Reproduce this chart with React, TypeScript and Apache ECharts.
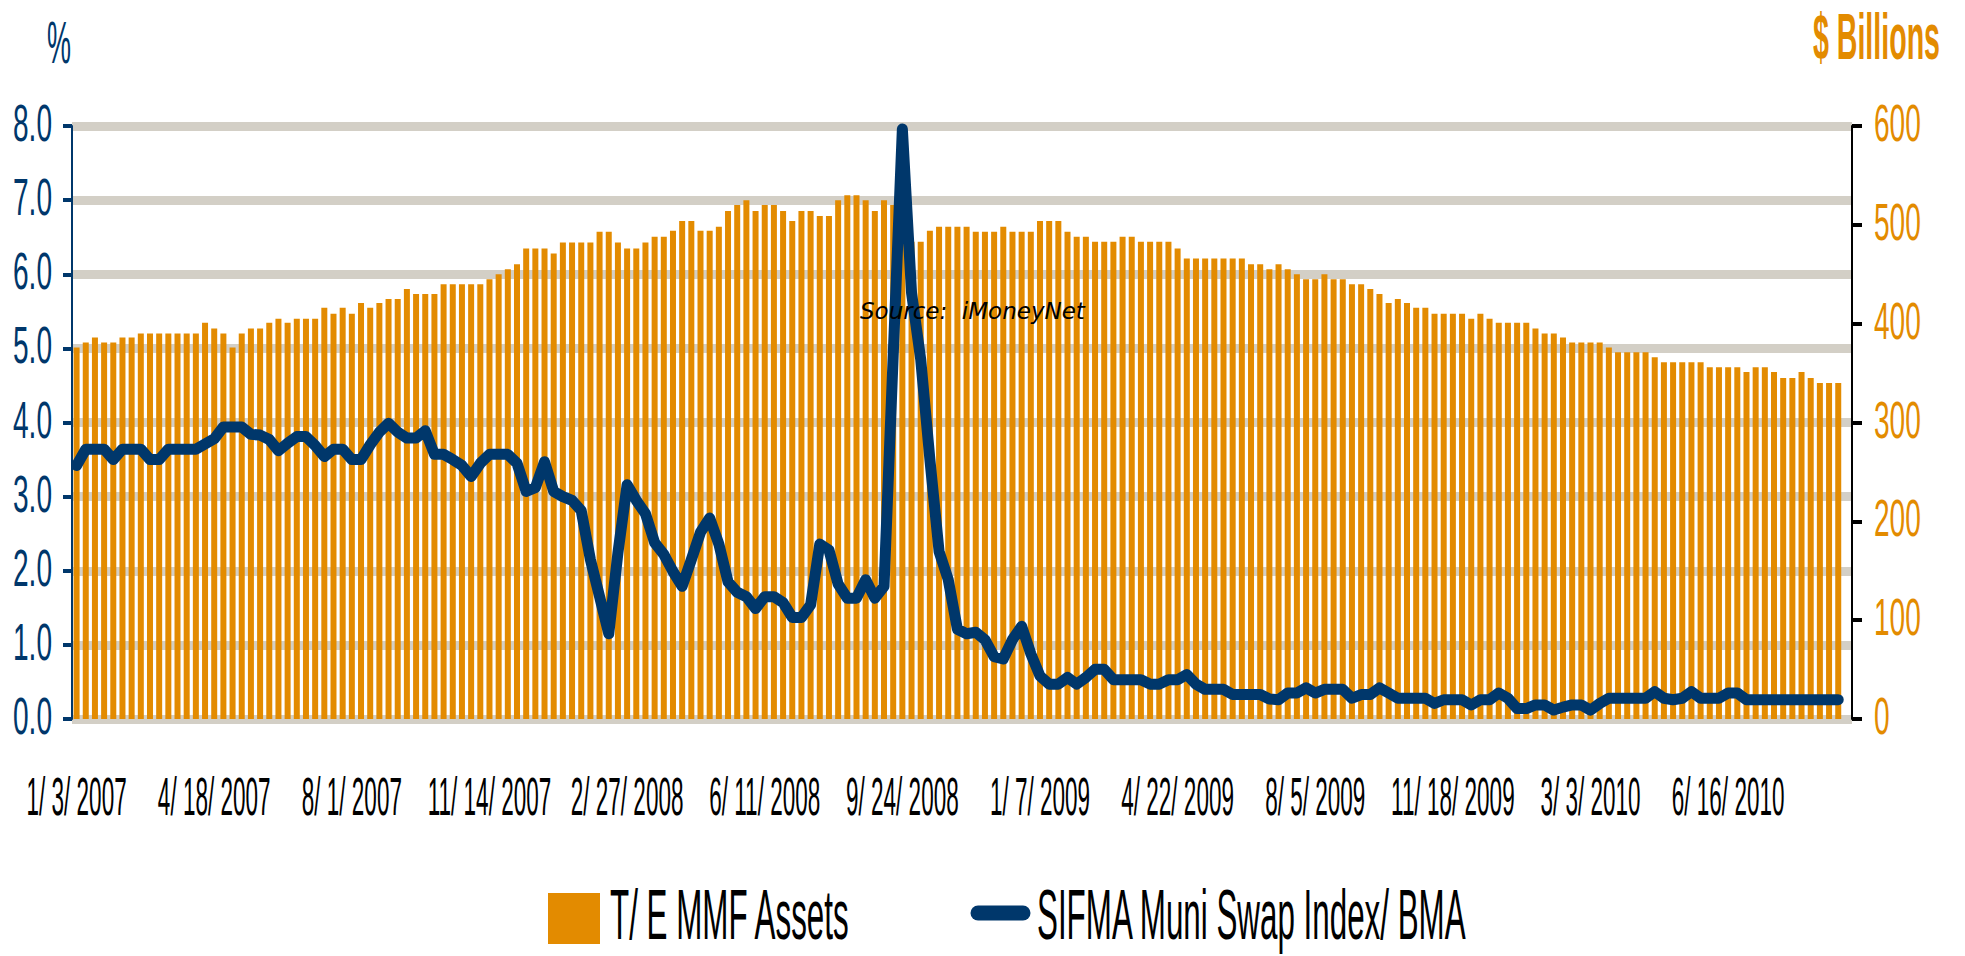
import React, { useEffect, useRef } from "react";
import * as echarts from "echarts";

// ---- data (weekly, starting 1/3/2007) ----
const START_UTC = Date.UTC(2007, 0, 3);
const WEEK_MS = 7 * 86400000;
const CATEGORY_COUNT = 194;
const LABEL_EVERY = 15;

// T/E money-market fund assets, $ billions
const mmfAssets = [
  376, 381, 386, 381, 381, 386, 386, 390, 390, 390, 390, 390, 390, 390, 401, 395, 390, 376, 390, 395, 395, 401, 405, 401, 405, 405, 405, 416, 410, 416, 410, 421,
  416, 421, 425, 425, 435, 430, 430, 430, 440, 440, 440, 440, 440, 445, 450, 455, 460, 476, 476, 476, 471, 482, 482, 482, 482, 493, 493, 482, 476, 476, 482, 488, 488,
  494, 504, 504, 494, 494, 498, 514, 520, 525, 514, 520, 520, 514, 504, 514, 514, 509, 509, 525, 530, 530, 525, 514, 525, 520, 490, 483, 483, 494, 498, 498, 498,
  498,
  493, 493, 493, 498, 493, 493, 493, 504, 504, 504, 493, 488, 488, 483, 483, 483, 488, 488, 483, 483, 483, 483, 476, 466, 466, 466, 466, 466, 466, 466, 460, 460,
  455, 460, 455, 450, 445, 445, 450, 445, 445, 440, 440, 435, 430, 421, 425, 421, 416, 416, 410, 410, 410, 410, 405, 410, 405, 401, 401, 401, 401, 395, 390, 390, 386,
  381, 381, 381, 381, 376, 371, 371, 371, 371, 366, 361, 361, 361, 361, 361, 356, 356, 356, 356, 351, 356, 356, 351, 345, 345, 351, 345, 340, 340, 340,
];

// SIFMA Muni Swap Index / BMA, %
const sifmaRate = [
  3.42, 3.64, 3.64, 3.64, 3.5, 3.64, 3.64, 3.64, 3.5, 3.5, 3.64, 3.64, 3.64, 3.64, 3.71, 3.78, 3.94, 3.94, 3.94, 3.84, 3.83, 3.77, 3.62, 3.72, 3.81, 3.81, 3.69, 3.54, 3.64, 3.64, 3.5, 3.5,
  3.7, 3.87, 3.99, 3.87, 3.79, 3.79, 3.89, 3.57, 3.57, 3.5, 3.42, 3.27, 3.45, 3.57, 3.57, 3.57, 3.45, 3.07, 3.12, 3.47, 3.07, 3.0, 2.95, 2.81, 2.15, 1.65, 1.15, 2.24, 3.16, 2.95, 2.77, 2.38, 2.22,
  1.99, 1.79, 2.15, 2.52, 2.71, 2.36, 1.85, 1.71, 1.65, 1.49, 1.65, 1.65, 1.57, 1.37, 1.37, 1.54, 2.36, 2.28, 1.82, 1.63, 1.63, 1.88, 1.63, 1.79, 4.9, 7.96, 5.75, 4.85, 3.5, 2.26, 1.88, 1.21,
  1.15,
  1.17, 1.07, 0.84, 0.81, 1.07, 1.25, 0.88, 0.58, 0.47, 0.47, 0.56, 0.47, 0.56, 0.67, 0.67, 0.53, 0.53, 0.53, 0.53, 0.47, 0.47, 0.53, 0.53, 0.6, 0.47, 0.4, 0.4, 0.4, 0.33, 0.33, 0.33, 0.33,
  0.27, 0.26, 0.35, 0.35, 0.42, 0.35, 0.4, 0.4, 0.4, 0.28, 0.33, 0.33, 0.42, 0.35, 0.28, 0.28, 0.28, 0.28, 0.21, 0.26, 0.26, 0.26, 0.19, 0.26, 0.26, 0.35, 0.28, 0.14, 0.14, 0.19, 0.19, 0.12, 0.16,
  0.19, 0.19, 0.12, 0.21, 0.28, 0.28, 0.28, 0.28, 0.28, 0.37, 0.28, 0.26, 0.28, 0.37, 0.28, 0.28, 0.28, 0.35, 0.35, 0.26, 0.26, 0.26, 0.26, 0.26, 0.26, 0.26, 0.26, 0.26, 0.26, 0.26,
];

const leftTickValues = [0, 1, 2, 3, 4, 5, 6, 7, 8];
const leftTickLabels = ["0.0", "1.0", "2.0", "3.0", "4.0", "5.0", "6.0", "7.0", "8.0"];
const rightTickValues = [0, 100, 200, 300, 400, 500, 600];
const rightTickLabels = ["0", "100", "200", "300", "400", "500", "600"];

const weeks = Array.from({ length: CATEGORY_COUNT }, (_, i) => {
  const d = new Date(START_UTC + i * WEEK_MS);
  return `${d.getUTCMonth() + 1}/ ${d.getUTCDate()}/ ${d.getUTCFullYear()}`;
});

const NAVY = "#00376B";
const ORANGE = "#E38B00";
const GRID = "#D3CFC6";
const FONT = "'Liberation Sans', Arial, sans-serif";

function txt(
  text: string,
  x: number,
  y: number,
  size: number,
  sx: number,
  color: string,
  align: string,
  extra: any = {}
) {
  return {
    type: "text",
    x,
    y,
    scaleX: sx,
    scaleY: 1,
    z: 50,
    silent: true,
    style: {
      text,
      fill: color,
      fontSize: size,
      fontFamily: FONT,
      fontWeight: extra.fontWeight || "normal",
      fontStyle: extra.fontStyle || "normal",
      align,
      textAlign: align,
      verticalAlign: "middle",
      textVerticalAlign: "middle",
      ...(extra.style || {}),
    },
  };
}

export default function App() {
  const ref = useRef<HTMLDivElement>(null);

  useEffect(() => {
    const chart = echarts.init(ref.current!, null, { renderer: "svg" });
    chart.setOption({
      animation: false,
      backgroundColor: "#ffffff",
      grid: { left: 72, right: 113, top: 126, bottom: 237 },
      xAxis: {
        type: "category",
        data: weeks,
        axisLine: { show: false },
        axisTick: { show: false },
        axisLabel: { show: false },
        splitLine: { show: false },
      },
      yAxis: [
        {
          type: "value",
          min: 0,
          max: 8,
          interval: 1,
          position: "left",
          axisLine: { show: true, lineStyle: { color: NAVY, width: 2 } },
          axisTick: { show: true, length: 9, lineStyle: { color: NAVY, width: 4 } },
          axisLabel: { show: false },
          splitLine: { show: true, lineStyle: { color: GRID, width: 9 } },
        },
        {
          type: "value",
          min: 0,
          max: 600,
          interval: 100,
          position: "right",
          axisLine: { show: true, lineStyle: { color: "#000000", width: 2 } },
          axisTick: { show: true, length: 10, lineStyle: { color: "#000000", width: 4 } },
          axisLabel: { show: false },
          splitLine: { show: false },
        },
      ],
      series: [
        {
          type: "bar",
          name: "T/ E MMF Assets",
          yAxisIndex: 1,
          data: mmfAssets,
          barWidth: 6,
          itemStyle: { color: ORANGE },
        },
        {
          type: "line",
          name: "SIFMA Muni Swap Index/ BMA",
          yAxisIndex: 0,
          data: sifmaRate,
          symbol: "none",
          z: 3,
          lineStyle: { color: NAVY, width: 11, cap: "round", join: "round" },
        },
      ],
    });

    const g: any[] = [];
    // x labels
    for (let i = 0; i < mmfAssets.length; i += LABEL_EVERY) {
      const x = chart.convertToPixel({ xAxisIndex: 0 }, i) as number;
      g.push(txt(weeks[i], x, 797, 53, 0.425, "#000000", "center"));
    }
    // left tick labels
    leftTickValues.forEach((v, k) => {
      const y = chart.convertToPixel({ yAxisIndex: 0 }, v) as number;
      g.push(txt(leftTickLabels[k], 52, y - 3, 52, 0.54, NAVY, "right"));
    });
    // right tick labels
    rightTickValues.forEach((v, k) => {
      const y = chart.convertToPixel({ yAxisIndex: 1 }, v) as number;
      g.push(txt(rightTickLabels[k], 1874, y - 3, 52, 0.54, ORANGE, "left"));
    });
    // axis titles
    g.push(txt("%", 59, 42, 60, 0.45, NAVY, "center"));
    g.push(txt("$ Billions", 1940, 37, 65, 0.44, ORANGE, "right", { fontWeight: "bold" }));
    // source note
    g.push({
      type: "text",
      x: 860,
      y: 311,
      z: 60,
      silent: true,
      style: {
        text: "Source:  iMoneyNet",
        fill: "#000000",
        fontSize: 23,
        fontFamily: "'DejaVu Sans', Verdana, sans-serif",
        fontStyle: "italic",
        align: "left",
        textAlign: "left",
        verticalAlign: "middle",
        textVerticalAlign: "middle",
      },
    });
    // legend
    g.push({ type: "rect", z: 50, shape: { x: 548, y: 893, width: 52, height: 51 }, style: { fill: ORANGE } });
    g.push(txt("T/ E MMF Assets", 610, 914, 70, 0.448, "#000000", "left"));
    g.push({
      type: "line",
      z: 50,
      shape: { x1: 978, y1: 913, x2: 1023, y2: 913 },
      style: { stroke: NAVY, lineWidth: 15, lineCap: "round" },
    });
    g.push(txt("SIFMA Muni Swap Index/ BMA", 1037, 914, 70, 0.448, "#000000", "left"));

    chart.setOption({ graphic: { elements: g } });

    return () => chart.dispose();
  }, []);

  return (
    <div
      ref={ref}
      style={{ position: "fixed", left: 0, top: 0, width: 1965, height: 956, background: "#ffffff" }}
    />
  );
}
